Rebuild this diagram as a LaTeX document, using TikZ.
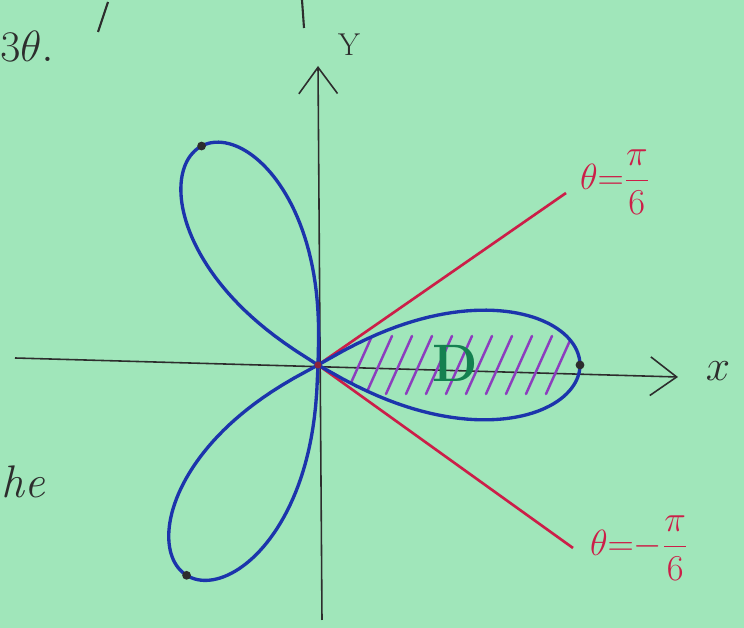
\documentclass[tikz,border=0pt]{standalone}
\usetikzlibrary{arrows.meta,positioning}

\definecolor{paper}{RGB}{160,230,186}
\definecolor{pencil}{RGB}{45,45,45}
\definecolor{roseblue}{RGB}{28,52,172}
\definecolor{raycol}{RGB}{204,30,72}
\definecolor{hatchcol}{RGB}{140,60,190}
\definecolor{dgreen}{RGB}{20,128,80}

\tikzset{
  axis/.style={draw=pencil, line width=0.9pt},
  petal/.style={draw=roseblue, line width=1.9pt},
  ray/.style={draw=raycol, line width=1.5pt},
  hatch/.style={draw=hatchcol, line width=1.4pt, line cap=round},
  tipdot/.style={circle, fill=pencil, inner sep=0pt, minimum size=5pt},
  hand/.style={text=pencil, inner sep=0pt},
  raylab/.style={text=raycol, anchor=west, inner sep=1pt, font=\fontsize{22}{22}\selectfont},
}

% one petal of the rose, #1 = direction, #2 = length
\newcommand{\lobe}[2]{plot[domain=-30:30, samples=91]
  ({#1+\x}:{#2*(0.5*abs(cos(3*\x))+0.5*sqrt(abs(cos(3*\x))))})}

\begin{document}
\begin{tikzpicture}[x=0.02cm, y=0.02cm, >={Straight Barb[length=15pt,width=22pt]}]

\useasboundingbox (0,0) rectangle (744,628);
\fill[paper] (0,0) rectangle (744,628);
\clip (0,0) rectangle (744,628);

% text at the edges
\node[hand, anchor=base west, font=\fontsize{26}{26}\selectfont] (txt) at (0,566) {$3\theta.$};
\node[hand, anchor=base west, font=\fontsize{26}{26}\selectfont\itshape] (he) at (1,130) {he};
\draw[pencil, line width=1.2pt] (108,626) -- (98,596);
\draw[pencil, line width=1.2pt] (302,628) -- (304,600);

% axes
\coordinate (pole) at (318,263);
\coordinate (xl) at (15,270);
\coordinate (xr) at (678,251);
\coordinate (yb) at (322,8);
\coordinate (yt) at (318,562);
\draw[axis, ->] (xl) -- (xr);
\draw[axis, ->] (yb) -- (yt);
\node[hand, font=\fontsize{24}{24}\selectfont] (xlab) at (718,257) {$x$};
\node[hand, font=\fontsize{18}{18}\selectfont] (ylab) at (349,583) {Y};

% rays
\node[raylab] (tup) at (578,446) {$\displaystyle\theta{=}\frac{\pi}{6}$};
\node[raylab] (tdn) at (588,80) {$\displaystyle\theta{=}{-}\frac{\pi}{6}$};
\coordinate (rup) at (566,435);
\coordinate (rdn) at (573,80);
\draw[ray] (pole) -- (rup);
\draw[ray] (pole) -- (rdn);

% hatching of D
\begin{scope}
\clip[shift={(pole)}] \lobe{0}{262};
\foreach \i in {0,...,10} {
  \draw[hatch] ({346+20*\i},234) -- ++(26,58);
}
\end{scope}

% rose
\begin{scope}[shift={(pole)}]
\draw[petal] \lobe{0}{262};
\draw[petal] \lobe{118}{248};
\draw[petal] \lobe{238}{248};
\node[tipdot] (tipa) at (0:262) {};
\node[tipdot] (tipb) at (118:248) {};
\node[tipdot] (tipc) at (238:248) {};
\end{scope}
\node[circle, fill=raycol!60!pencil, inner sep=0pt, minimum size=4pt] (o) at (pole) {};

\node[text=dgreen, font=\fontsize{30}{30}\selectfont\bfseries] (D) at (455,265) {D};

\end{tikzpicture}
\end{document}
